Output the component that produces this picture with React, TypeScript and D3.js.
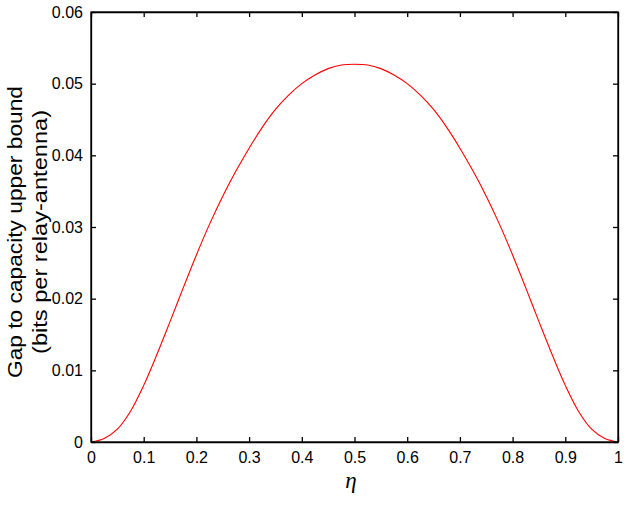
import { useEffect, useRef } from 'react';
import * as d3 from 'd3';

// eta values and gap
const etaValues = [
  0, 0.025, 0.05, 0.075, 0.1, 0.125, 0.15, 0.175, 0.2, 0.225, 0.25, 0.275, 0.3, 0.325, 0.35, 0.375, 0.4, 0.425, 0.45, 0.475,
  0.5, 0.525, 0.55, 0.575, 0.6, 0.625, 0.65, 0.675, 0.7, 0.725, 0.75, 0.775, 0.8, 0.825, 0.85, 0.875, 0.9, 0.925, 0.95,
  0.975, 1,
];
const gapValues = [
  0, 0.0005, 0.0018, 0.0043, 0.0079, 0.0122, 0.0168, 0.0215, 0.0261, 0.0304, 0.0343, 0.0378, 0.041, 0.0439, 0.0464, 0.0484,
  0.0500, 0.0512, 0.0521, 0.0526, 0.0527, 0.0526, 0.0521, 0.0512, 0.0500, 0.0484, 0.0464, 0.0439, 0.041, 0.0378, 0.0343,
  0.0304, 0.0261, 0.0215, 0.0168, 0.0122, 0.0079, 0.0043, 0.0018, 0.0005, 0,
];
const xTicks = [0, 0.1, 0.2, 0.3, 0.4, 0.5, 0.6, 0.7, 0.8, 0.9, 1];
const yTicks = [0, 0.01, 0.02, 0.03, 0.04, 0.05, 0.06];
const yLabelLines = ['Gap to capacity upper bound', '(bits per relay-antenna)'];
const xLabel = 'η';

const width = 637;
const height = 526;

const App = () => {
  const svgRef = useRef<SVGSVGElement | null>(null);

  useEffect(() => {
    const svg = d3.select(svgRef.current);
    svg.selectAll('*').remove();

    const margin = { top: 12, right: 19, bottom: 84, left: 91 };
    const chartWidth = width - margin.left - margin.right;
    const chartHeight = height - margin.top - margin.bottom;
    const font = 'Liberation Sans, Arial, sans-serif';

    const g = svg.append('g').attr('transform', `translate(${margin.left},${margin.top})`);

    const xScale = d3.scaleLinear().domain([0, 1]).range([0, chartWidth]);
    const yScale = d3.scaleLinear().domain([0, 0.06]).range([chartHeight, 0]);

    const data = etaValues.map((eta, i) => ({ eta, gap: gapValues[i] }));

    const line = d3
      .line<{ eta: number; gap: number }>()
      .x(d => xScale(d.eta))
      .y(d => yScale(d.gap))
      .curve(d3.curveCatmullRom);

    g.append('path')
      .datum(data)
      .attr('fill', 'none')
      .attr('stroke', '#ff0000')
      .attr('stroke-width', 1.1)
      .attr('d', line);

    const tickLen = 5;
    const fmt = (v: number) => (v === 0 ? '0' : v === 1 ? '1' : String(+v.toFixed(2)));

    // bottom axis (inward ticks)
    const bottom = g
      .append('g')
      .attr('transform', `translate(0,${chartHeight})`)
      .call(d3.axisBottom(xScale).tickValues(xTicks).tickSizeInner(-tickLen).tickSizeOuter(0).tickPadding(10).tickFormat(d => fmt(+d)));
    bottom.selectAll('text').style('font-size', '16px').style('font-family', font).attr('fill', '#000');

    // top axis, ticks only
    g.append('g')
      .call(d3.axisTop(xScale).tickValues(xTicks).tickSizeInner(-tickLen).tickSizeOuter(0).tickFormat(() => ''));

    // left axis
    const left = g
      .append('g')
      .call(d3.axisLeft(yScale).tickValues(yTicks).tickSizeInner(-tickLen).tickSizeOuter(0).tickPadding(8).tickFormat(d => fmt(+d)));
    left.selectAll('text').style('font-size', '16px').style('font-family', font).attr('fill', '#000');

    // right axis, ticks only
    g.append('g')
      .attr('transform', `translate(${chartWidth},0)`)
      .call(d3.axisRight(yScale).tickValues(yTicks).tickSizeInner(-tickLen).tickSizeOuter(0).tickFormat(() => ''));

    g.selectAll('.domain, .tick line').attr('stroke', '#000').attr('stroke-width', 1.3);

    // box
    g.append('rect')
      .attr('width', chartWidth)
      .attr('height', chartHeight)
      .attr('fill', 'none')
      .attr('stroke', '#000')
      .attr('stroke-width', 1.3);

    // x label
    svg.append('text')
      .attr('x', 351)
      .attr('y', 488)
      .attr('text-anchor', 'middle')
      .style('font-family', 'Liberation Serif, serif')
      .style('font-style', 'italic')
      .style('font-size', '23px')
      .text(xLabel);

    // y label, two lines
    const yl = svg.append('text')
      .attr('transform', `translate(0,232) rotate(-90)`)
      .attr('text-anchor', 'middle')
      .style('font-family', font)
      .style('font-size', '20px');
    const lengths = [292, 244];
    yLabelLines.forEach((t, i) => {
      yl.append('tspan')
        .attr('x', 0)
        .attr('y', 22 + i * 25)
        .attr('textLength', lengths[i])
        .attr('lengthAdjust', 'spacingAndGlyphs')
        .text(t);
    });
  }, []);

  return (
    <svg
      ref={svgRef}
      width={width}
      height={height}
      style={{ position: 'absolute', left: 0, top: 0, background: '#fff' }}
    />
  );
};

export default App;
